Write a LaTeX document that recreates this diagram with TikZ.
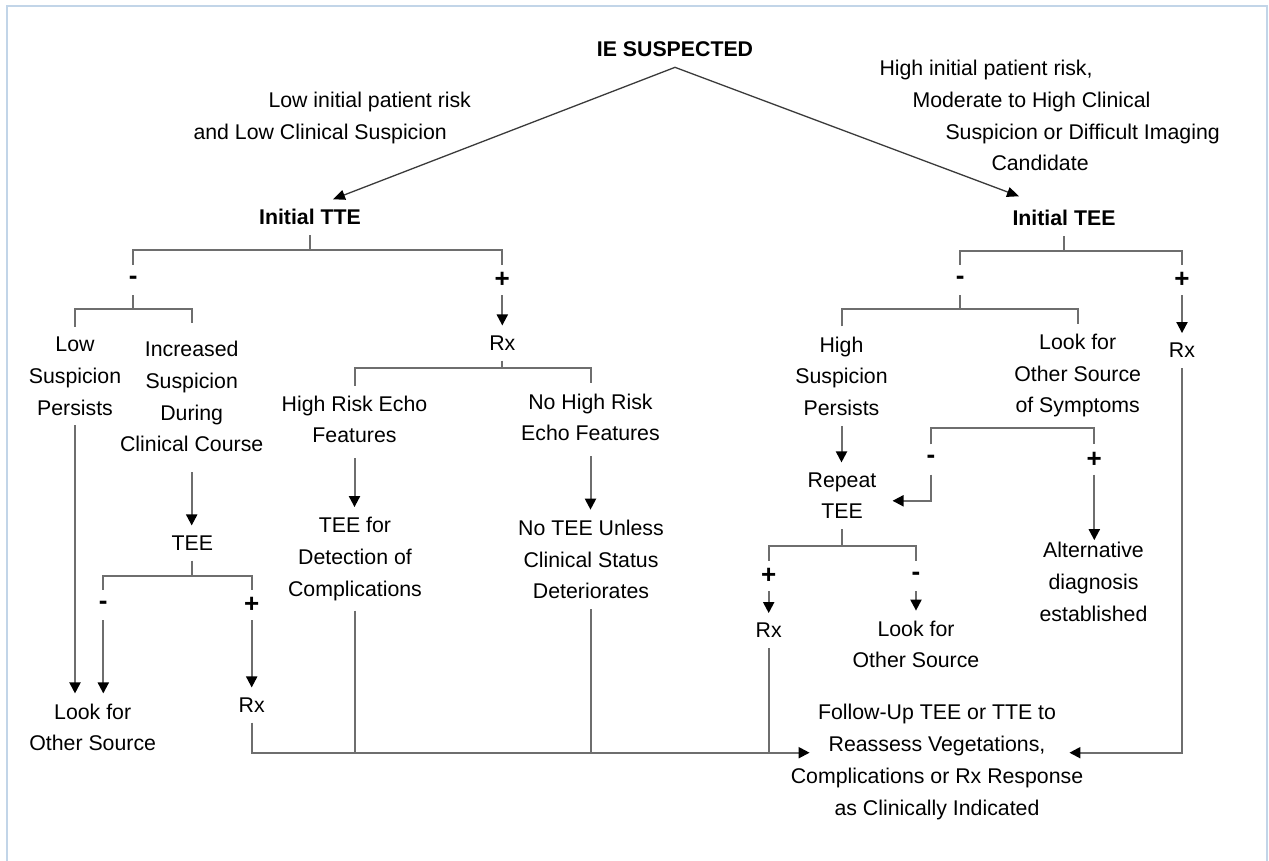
\documentclass[tikz,border=0pt]{standalone}
\usepackage{fontspec}
\setmainfont{Liberation Sans}
\usetikzlibrary{arrows.meta}
\definecolor{linegray}{HTML}{6E6E6E}
\definecolor{diaggray}{HTML}{3A3A3A}
\definecolor{framblue}{HTML}{C2D5E8}

\begin{document}
\begin{tikzpicture}[x=1pt, y=-1pt,
    txt/.style={font=\fontsize{21.3}{31.7}\selectfont, align=center,
                inner xsep=2pt, inner ysep=10pt},
    hd/.style={txt, font=\fontsize{21.3}{31.7}\selectfont\bfseries},
    sgn/.style={font=\fontsize{26}{30}\selectfont\bfseries,
                inner sep=0pt, minimum height=30pt, minimum width=12pt},
    lbl/.style={font=\fontsize{21.3}{31.7}\selectfont, align=left,
                inner sep=0pt, anchor=west},
    ln/.style={draw=linegray, line width=2pt},
    arr/.style={ln, -{Triangle[length=11pt, width=11pt, color=black]}},
    diag/.style={draw=diaggray, line width=1.3pt,
                 -{Triangle[length=12pt, width=10pt, color=black]}}]

    \useasboundingbox (0,0) rectangle (1269,861);
    \draw[framblue, line width=2pt] (7,861) -- (7,6) -- (1267,6) -- (1267,861);

    % Top: suspicion splits into TTE (left) and TEE (right)
    \node[hd] (ie) at (675,49.6) {IE SUSPECTED};
    \node[lbl] (lowlbl) at (193.3,118)
        {\hspace*{75pt}Low initial patient risk\\and Low Clinical Suspicion};
    \node[lbl] (hilbl) at (879.3,115.6)
        {High initial patient risk,\\\hspace*{33pt}Moderate to High Clinical\\
         \hspace*{66pt}Suspicion or Difficult Imaging\\\hspace*{112pt}Candidate};
    \node[hd] (tte) at (310,217.3) {Initial TTE};
    \node[hd] (tee) at (1064,218.3) {Initial TEE};

    \draw[diag] (ie.south) -- ([xshift=23pt]tte.north);
    \draw[diag] (ie.south) -- ([xshift=-45pt,yshift=4pt]tee.north);

    % Initial TTE : - / +
    \node[sgn] (tteneg) at (133.3,280) {-};
    \node[sgn] (ttepos) at (502.3,280) {+};
    \coordinate (ttebar) at (310,250);
    \draw[ln] (tte.south) -- (ttebar);
    \draw[ln] (tteneg.north) |- (ttebar) -| (ttepos.north);

    % TTE negative
    \node[txt] (lowp) at (75,376.1) {Low\\Suspicion\\Persists};
    \node[txt] (incr) at (191.7,396.8) {Increased\\Suspicion\\During\\Clinical Course};
    \coordinate (negbar) at (133.3,309.3);
    \draw[ln] (tteneg.south) -- (negbar);
    \draw[ln] (lowp.north) |- (negbar) -| ([yshift=8pt]incr.north);

    \node[txt] (tee2) at (192.3,543) {TEE};
    \draw[arr] ([yshift=-10pt]incr.south) -- (incr.south |- tee2.north);

    \node[sgn] (tee2neg) at (103.3,605) {-};
    \node[sgn] (tee2pos) at (251.7,605) {+};
    \coordinate (tee2bar) at (192.3,575.7);
    \draw[ln] (tee2.south) -- (tee2bar);
    \draw[ln] (tee2neg.north) |- (tee2bar) -| (tee2pos.north);

    \node[txt] (lookL) at (92.7,727.3) {Look for\\Other Source};
    \node[txt] (rxL) at (251.7,705) {Rx};
    \draw[arr] (lowp.south) -- (lowp.south |- lookL.north);
    \draw[arr] (tee2neg.south) -- (tee2neg.south |- lookL.north);
    \draw[arr] (tee2pos.south) -- (rxL.north);

    % TTE positive
    \node[txt] (rx1) at (502.3,343) {Rx};
    \draw[arr] (ttepos.south) -- (rx1.north);
    \node[txt] (hirisk) at (354.5,419.5) {High Risk Echo\\Features};
    \node[txt] (nohi) at (590.5,417.3) {No High Risk\\Echo Features};
    \coordinate (rxbar) at (502.3,368.3);
    \draw[ln] (rx1.south) -- (rxbar);
    \draw[ln] (hirisk.north) |- (rxbar) -| (nohi.north);

    \node[txt] (teefor) at (355,558.9) {TEE for\\Detection of\\Complications};
    \node[txt] (notee) at (591,559.4) {No TEE Unless\\Clinical Status\\Deteriorates};
    \draw[arr] ([yshift=-5pt]hirisk.south) -- (hirisk.south |- teefor.north);
    \draw[arr] ([yshift=-5pt]nohi.south) -- (nohi.south |- notee.north);

    % Initial TEE : - / +
    \node[sgn] (teeneg) at (960.3,280) {-};
    \node[sgn] (teepos) at (1182,280) {+};
    \coordinate (teebar) at (1064,250.5);
    \draw[ln] (tee.south) -- (teebar);
    \draw[ln] (teeneg.north) |- (teebar) -| (teepos.north);
    \node[txt] (rxR) at (1182,350.6) {Rx};
    \draw[arr] (teepos.south) -- (rxR.north);

    % TEE negative
    \node[txt] (hisus) at (841.5,376.1) {High\\Suspicion\\Persists};
    \node[txt] (looksym) at (1077.7,375.5) {Look for\\Other Source\\of Symptoms};
    \coordinate (teenegbar) at (960.3,309.3);
    \draw[ln] (teeneg.south) -- (teenegbar);
    \draw[ln] (hisus.north) |- (teenegbar) -| (looksym.north);

    \node[txt] (repeat) at (842,495.8) {Repeat\\TEE};
    \draw[arr] (hisus.south) -- (hisus.south |- repeat.north);

    \node[sgn] (symneg) at (931,459.5) {-};
    \node[sgn] (sympos) at (1094.3,459.5) {+};
    \coordinate (symbar) at (1012,428.3);
    \draw[ln] (symneg.north) |- (symbar) -| (sympos.north);
    \draw[arr] (symneg.south) |- ([xshift=14pt,yshift=-5pt]repeat.east);
    \node[txt] (altdx) at (1093.5,581.9) {Alternative\\diagnosis\\established};
    \draw[arr, shorten >=-8pt] (sympos.south) -- (sympos.south |- altdx.north);

    % Repeat TEE : + / -
    \node[sgn] (rptpos) at (768.7,576) {+};
    \node[sgn] (rptneg) at (916,576) {-};
    \coordinate (rptbar) at (842,546);
    \draw[ln] (repeat.south) -- (rptbar);
    \draw[ln] (rptpos.north) |- (rptbar) -| (rptneg.north);
    \node[txt] (rxR2) at (768.7,630.6) {Rx};
    \node[txt] (lookR) at (916,644.5) {Look for\\Other Source};
    \draw[arr] (rptpos.south) -- (rxR2.north);
    \draw[arr] (rptneg.south) -- (lookR.north);

    % Follow-up collects all treatment branches
    \node[txt] (follow) at (937,762)
        {Follow-Up TEE or TTE to\\Reassess Vegetations,\\Complications or Rx Response\\as Clinically Indicated};
    \coordinate (busend) at ([xshift=21pt,yshift=9.3pt]follow.west);
    \draw[arr] (rxL.south) |- (busend);
    \draw[ln] (teefor.south) -- (teefor.south |- busend);
    \draw[ln] (notee.south) -- (notee.south |- busend);
    \draw[ln] (rxR2.south) -- (rxR2.south |- busend);
    \draw[arr] (rxR.south) |- ([xshift=-16pt,yshift=9.3pt]follow.east);

\end{tikzpicture}
\end{document}
